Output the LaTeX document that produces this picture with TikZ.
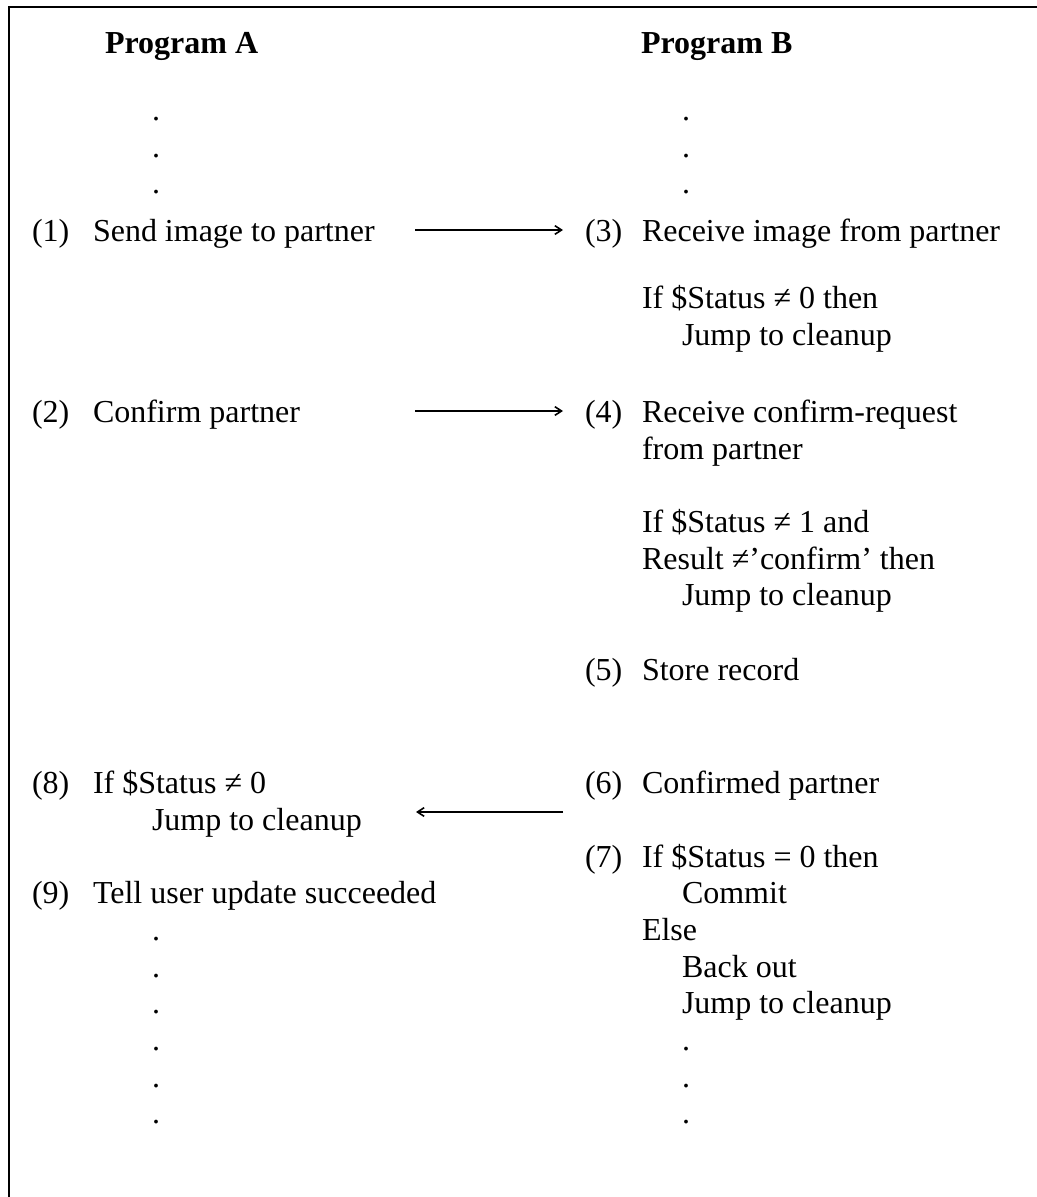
\documentclass[tikz,border=0pt]{standalone}
\usepackage{fontspec}
\setmainfont{Liberation Serif}
\usetikzlibrary{arrows.meta}
\begin{document}
\begin{tikzpicture}[x=0.75pt,y=-0.75pt,
  txt/.style={anchor=base west,inner sep=0pt,outer sep=0pt,font=\fontsize{24}{28}\selectfont},
  head/.style={txt,font=\fontsize{24}{28}\selectfont\bfseries},
  msg/.style={line width=1.4pt,-{Straight Barb[length=5pt,width=6.5pt,line width=1.2pt]}}]
\useasboundingbox (0,0) rectangle (1037,1197);
% frame: left and top rules only
\draw[line width=2.2pt] (9,1197) -- (9,7) -- (1037,7);

% headings
\node[head] (hA) at (105,53) {Program A};
\node[head] (hB) at (641,53) {Program B};

% ---- Program A ----
\node[txt] (dA1) at (152,120) {.};
\node[txt] (dA2) at (152,157) {.};
\node[txt] (dA3) at (152,193) {.};
\node[txt] (n1) at (32,241) {(1)};
\node[txt] (t1) at (93,241) {Send image to partner};
\node[txt] (n2) at (32,422) {(2)};
\node[txt] (t2) at (93,422) {Confirm partner};
\node[txt] (n8) at (32,793) {(8)};
\node[txt] (t8) at (93,793) {If \$Status ≠ 0};
\node[txt] (t8b) at (152,830) {Jump to cleanup};
\node[txt] (n9) at (32,903) {(9)};
\node[txt] (t9) at (93,903) {Tell user update succeeded};
\node[txt] (dA4) at (152,940) {.};
\node[txt] (dA5) at (152,977) {.};
\node[txt] (dA6) at (152,1013) {.};
\node[txt] (dA7) at (152,1050) {.};
\node[txt] (dA8) at (152,1087) {.};
\node[txt] (dA9) at (152,1123) {.};

% ---- Program B ----
\node[txt] (dB1) at (682,120) {.};
\node[txt] (dB2) at (682,157) {.};
\node[txt] (dB3) at (682,193) {.};
\node[txt] (n3) at (585,241) {(3)};
\node[txt] (t3) at (642,241) {Receive image from partner};
\node[txt] (t3a) at (642,308) {If \$Status ≠ 0 then};
\node[txt] (t3b) at (682,345) {Jump to cleanup};
\node[txt] (n4) at (585,422) {(4)};
\node[txt] (t4) at (642,422) {Receive confirm-request};
\node[txt] (t4a) at (642,459) {from partner};
\node[txt] (t4b) at (642,532) {If \$Status ≠ 1 and};
\node[txt] (t4c) at (642,569) {Result ≠’confirm’ then};
\node[txt] (t4d) at (682,605) {Jump to cleanup};
\node[txt] (n5) at (585,680) {(5)};
\node[txt] (t5) at (642,680) {Store record};
\node[txt] (n6) at (585,793) {(6)};
\node[txt] (t6) at (642,793) {Confirmed partner};
\node[txt] (n7) at (585,867) {(7)};
\node[txt] (t7) at (642,867) {If \$Status = 0 then};
\node[txt] (t7a) at (682,903) {Commit};
\node[txt] (t7b) at (642,940) {Else};
\node[txt] (t7c) at (682,977) {Back out};
\node[txt] (t7d) at (682,1013) {Jump to cleanup};
\node[txt] (dB4) at (682,1050) {.};
\node[txt] (dB5) at (682,1087) {.};
\node[txt] (dB6) at (682,1123) {.};

% ---- messages between the programs ----
\coordinate (m1s) at (415,230);
\coordinate (m1e) at (563,230);
\coordinate (m2s) at (415,411);
\coordinate (m2e) at (563,411);
\coordinate (m3s) at (563,812);
\coordinate (m3e) at (416,812);
\draw[msg] (m1s) -- (m1e);
\draw[msg] (m2s) -- (m2e);
\draw[msg] (m3s) -- (m3e);
\end{tikzpicture}
\end{document}
